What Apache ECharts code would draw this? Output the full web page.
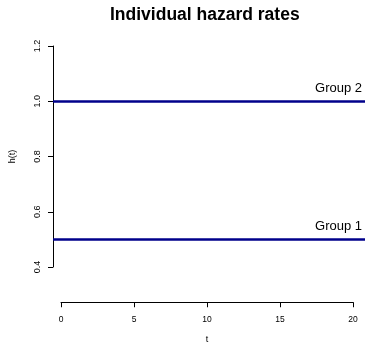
<!DOCTYPE html>
<html><head><meta charset="utf-8">
<script src="https://cdn.jsdelivr.net/npm/echarts@6/dist/echarts.min.js"></script>
<style>html,body{margin:0;padding:0;background:#fff}#c{width:365px;height:343px}</style>
</head><body><div id="c"></div>
<script>
const groups = ['Group 1', 'Group 2'];
const hazards = [0.5, 1.0];
const xTicks = [0, 5, 10, 15, 20];
const yTicks = [0.4, 0.6, 0.8, 1.0, 1.2];

const font = 'Liberation Sans, Arial, Helvetica, sans-serif';
const chart = echarts.init(document.getElementById('c'), null, {renderer: 'canvas'});
const series = groups.map((g, i) => ({
  type: 'line', xAxisIndex: 0, yAxisIndex: 0, data: [], name: g,
  markLine: {
    silent: true, symbol: 'none', animation: false,
    lineStyle: {color: '#00008B', width: 2.5, type: 'solid'},
    label: {show: true, position: 'insideEndTop', formatter: g, color: '#000',
            fontSize: 13, fontFamily: font, distance: [3, 6]},
    data: [{yAxis: hazards[i]}]
  }
}));
chart.setOption({
  animation: false,
  title: {text: 'Individual hazard rates', left: 110, top: 6, padding: 0,
          textStyle: {fontSize: 17.5, fontWeight: 'bold', color: '#000', fontFamily: font}},
  grid: [
    {left: 49, right: 0, top: 46, bottom: 76, containLabel: false},
    {left: 61, right: 12, top: 302, height: 1, containLabel: false}
  ],
  xAxis: [
    {gridIndex: 0, type: 'value', min: -0.8, max: 20.8, show: false},
    {gridIndex: 1, type: 'value', min: xTicks[0], max: xTicks[xTicks.length - 1], interval: 5,
     position: 'bottom',
     axisLine: {show: true, onZero: false, lineStyle: {color: '#000', width: 1}},
     axisTick: {show: true, length: 5, lineStyle: {color: '#000'}},
     axisLabel: {fontSize: 8.5, color: '#000', fontFamily: font, margin: 13},
     splitLine: {show: false},
     name: 't', nameLocation: 'middle', nameGap: 33,
     nameTextStyle: {fontSize: 9, color: '#000', fontFamily: font}}
  ],
  yAxis: [
    {gridIndex: 0, type: 'value', min: yTicks[0], max: yTicks[yTicks.length - 1], interval: 0.2,
     axisLine: {show: true, onZero: false, lineStyle: {color: '#000', width: 1}},
     axisTick: {show: true, length: 5, lineStyle: {color: '#000'}},
     axisLabel: {fontSize: 9, color: '#000', fontFamily: font, rotate: 90, margin: 11,
                 formatter: v => v.toFixed(1)},
     splitLine: {show: false},
     name: 'h(t)', nameLocation: 'middle', nameGap: 36, nameRotate: 90,
     nameTextStyle: {fontSize: 9, color: '#000', fontFamily: font}},
    {gridIndex: 1, type: 'value', show: false}
  ],
  series: series
});
</script></body></html>
